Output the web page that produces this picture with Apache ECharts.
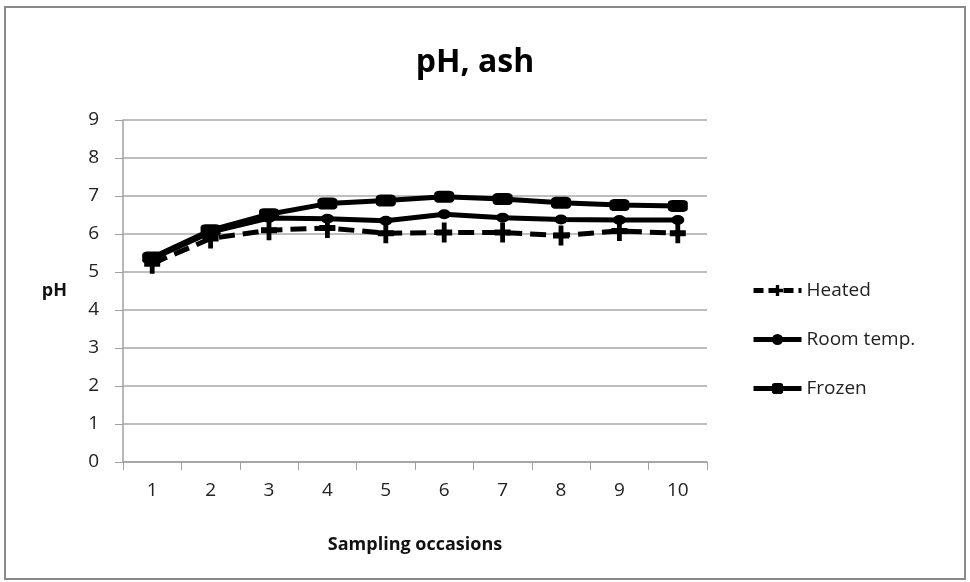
<!DOCTYPE html>
<html>
<head>
<meta charset="utf-8">
<script src="https://cdn.jsdelivr.net/npm/echarts@6/dist/echarts.min.js"></script>
<style>
  html, body { margin: 0; padding: 0; background: #fff; }
  #main { width: 970px; height: 582px; }
</style>
</head>
<body>
<div id="main"></div>
<script>
const categories = ["1", "2", "3", "4", "5", "6", "7", "8", "9", "10"];
const heated = [5.22, 5.88, 6.1, 6.16, 6.02, 6.04, 6.04, 5.96, 6.08, 6.02];
const roomTemp = [5.35, 6.05, 6.42, 6.4, 6.35, 6.52, 6.43, 6.38, 6.37, 6.37];
const frozen = [5.38, 6.1, 6.52, 6.8, 6.88, 6.98, 6.92, 6.82, 6.76, 6.74];

const font = "'Open Sans', 'Liberation Sans', sans-serif";
// plus sign marker for Heated
const crossPath = "path://M3.5,0 L6.5,0 L6.5,3.5 L10,3.5 L10,6.5 L6.5,6.5 L6.5,10 L3.5,10 L3.5,6.5 L0,6.5 L0,3.5 L3.5,3.5 Z";

let chart = echarts.init(document.getElementById("main"));
let option = {
  animation: false,
  textStyle: { fontFamily: font, color: "#222" },
  title: {
    text: "pH, ash",
    left: 470,
    top: 42,
    textAlign: "center",
    textStyle: { fontSize: 32, fontWeight: "bold", fontFamily: font, color: "#000" },
  },
  graphic: [
    {
      type: "rect",
      shape: { x: 5, y: 7, width: 960, height: 572 },
      style: { fill: "none", stroke: "#8a8a8a", lineWidth: 2 },
    },
  ],
  grid: { left: 123, right: 263, top: 120, bottom: 120 },
  legend: {
    orient: "vertical",
    left: 746,
    top: 276,
    itemWidth: 48,
    itemHeight: 14,
    itemGap: 30,
    textStyle: { fontSize: 19, fontFamily: font, color: "#222" },
    data: [
      { name: "Heated", lineStyle: { width: 5, type: [10, 5] } },
      { name: "Room temp.", lineStyle: { width: 5 } },
      { name: "Frozen", lineStyle: { width: 5 } },
    ],
  },
  xAxis: {
    type: "category",
    data: categories,
    boundaryGap: true,
    name: "Sampling occasions",
    nameLocation: "middle",
    nameGap: 74,
    nameTextStyle: { fontSize: 18, fontWeight: "bold", color: "#111" },
    axisLine: { lineStyle: { color: "#a0a0a0", width: 1.5 } },
    axisTick: { show: true, length: 8, inside: false, alignWithLabel: false, lineStyle: { color: "#a0a0a0" } },
    axisLabel: { fontSize: 19, color: "#222", margin: 19 },
    splitLine: { show: false },
  },
  yAxis: {
    type: "value",
    min: 0,
    max: 9,
    interval: 1,
    name: "pH",
    nameLocation: "middle",
    nameRotate: 0,
    nameGap: 56,
    nameTextStyle: { fontSize: 18, fontWeight: "bold", color: "#111" },
    axisLine: { show: true, lineStyle: { color: "#a0a0a0", width: 1.5 } },
    axisTick: { show: true, length: 8, lineStyle: { color: "#a0a0a0" } },
    axisLabel: { fontSize: 19, color: "#222", margin: 24 },
    splitLine: { lineStyle: { color: "#a8a8a8", width: 1.5 } },
  },
  series: [
    {
      name: "Heated",
      type: "line",
      data: heated,
      symbol: crossPath,
      symbolSize: [16, 20],
      color: "#000",
      lineStyle: { color: "#000", width: 5, type: [16, 8] },
      itemStyle: { color: "#000" },
      z: 3,
    },
    {
      name: "Room temp.",
      type: "line",
      data: roomTemp,
      symbol: "circle",
      symbolSize: [13, 10],
      color: "#000",
      lineStyle: { color: "#000", width: 5 },
      itemStyle: { color: "#000" },
      z: 4,
    },
    {
      name: "Frozen",
      type: "line",
      data: frozen,
      symbol: "roundRect",
      symbolSize: [20, 12],
      color: "#000",
      lineStyle: { color: "#000", width: 5 },
      itemStyle: { color: "#000" },
      z: 5,
    },
  ],
};
option && chart.setOption(option);
</script>
</body>
</html>
